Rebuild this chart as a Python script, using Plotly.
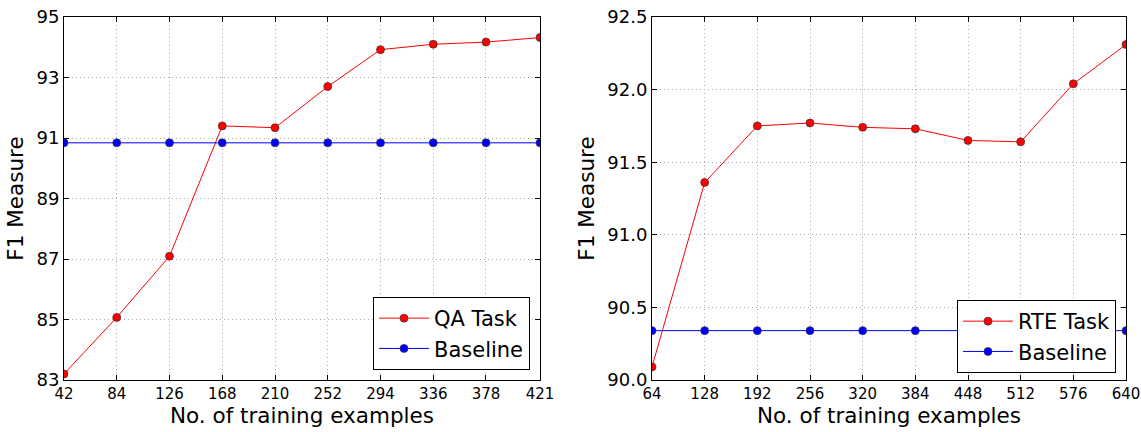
import plotly.graph_objects as go

qa_x = [42, 84, 126, 168, 210, 252, 294, 336, 378, 421]
qa_task = [83.2, 85.07, 87.09, 91.4, 91.34, 92.7, 93.92, 94.1, 94.17, 94.32]
qa_base = [90.84] * 10

rte_x = [64, 128, 192, 256, 320, 384, 448, 512, 576, 640]
rte_task = [90.09, 91.36, 91.75, 91.77, 91.74, 91.73, 91.65, 91.64, 92.04, 92.31]
rte_base = [90.34] * 10

qa_yticks = [83, 85, 87, 89, 91, 93, 95]
rte_yticks = [90.0, 90.5, 91.0, 91.5, 92.0, 92.5]

FONT = "DejaVu Sans"

fig = go.Figure()

def add(x, y, name, color, xa, ya, legend):
    fig.add_trace(go.Scatter(
        x=x, y=y, name=name, mode="lines+markers", xaxis=xa, yaxis=ya,
        legend=legend, cliponaxis=True,
        line=dict(color=color, width=1),
        marker=dict(color=color, size=8, line=dict(color="#333333", width=0.7)),
    ))

add(qa_x, qa_task, "QA Task", "#ff0000", "x", "y", "legend")
add(qa_x, qa_base, "Baseline", "#0000ff", "x", "y", "legend")
add(rte_x, rte_task, "RTE Task", "#ff0000", "x2", "y2", "legend2")
add(rte_x, rte_base, "Baseline", "#0000ff", "x2", "y2", "legend2")

W, H = 1141, 432
ml, mr, mt, mb = 64, 15, 17, 52
pw = W - ml - mr
ph = H - mt - mb

def dom(a, b):
    return [(a - ml) / pw, (b - ml) / pw]

axis_common = dict(
    showline=True, linecolor="black", linewidth=1, mirror="ticks",
    ticks="inside", ticklen=5, tickcolor="black",
    showgrid=True, gridcolor="#b0b0b0", griddash="1px,3px", gridwidth=1,
    zeroline=False, automargin=False, ticklabeloverflow="allow",
)
xfont = dict(family=FONT, size=15, color="black")
yfont = dict(family=FONT, size=18, color="black")
tfont = dict(family=FONT, size=21.5, color="black")

fig.update_layout(
    width=W, height=H,
    margin=dict(l=ml, r=mr, t=mt, b=mb, autoexpand=False),
    paper_bgcolor="white", plot_bgcolor="white",
    font=dict(family=FONT, color="black"),
    xaxis=dict(domain=dom(64, 540), range=[42, 421], tickvals=qa_x, tickfont=xfont,
               title=dict(text="No. of training examples", font=tfont, standoff=1),
               **axis_common),
    yaxis=dict(range=[83, 95], tickvals=qa_yticks, tickfont=yfont,
               title=dict(text="F1 Measure", font=tfont, standoff=6),
               **axis_common),
    xaxis2=dict(domain=dom(652, 1126), range=[64, 640], tickvals=rte_x, anchor="y2",
                tickfont=xfont,
                title=dict(text="No. of training examples", font=tfont, standoff=1),
                **axis_common),
    yaxis2=dict(range=[90.0, 92.5], tickvals=rte_yticks, tickformat=".1f", anchor="x2",
                tickfont=yfont,
                title=dict(text="F1 Measure", font=tfont, standoff=6),
                **axis_common),
    legend=dict(x=(530 - ml) / pw, xanchor="right", y=(380 - 370) / ph, yanchor="bottom",
                bordercolor="black", borderwidth=1, bgcolor="white", itemwidth=50,
                font=dict(family=FONT, size=21)),
    legend2=dict(x=(1116 - ml) / pw, xanchor="right", y=(380 - 373) / ph, yanchor="bottom",
                 bordercolor="black", borderwidth=1, bgcolor="white", itemwidth=50,
                 font=dict(family=FONT, size=21)),
)

fig.write_html("out.html", config={"displayModeBar": False},
               post_script="document.body.style.margin='0';")
